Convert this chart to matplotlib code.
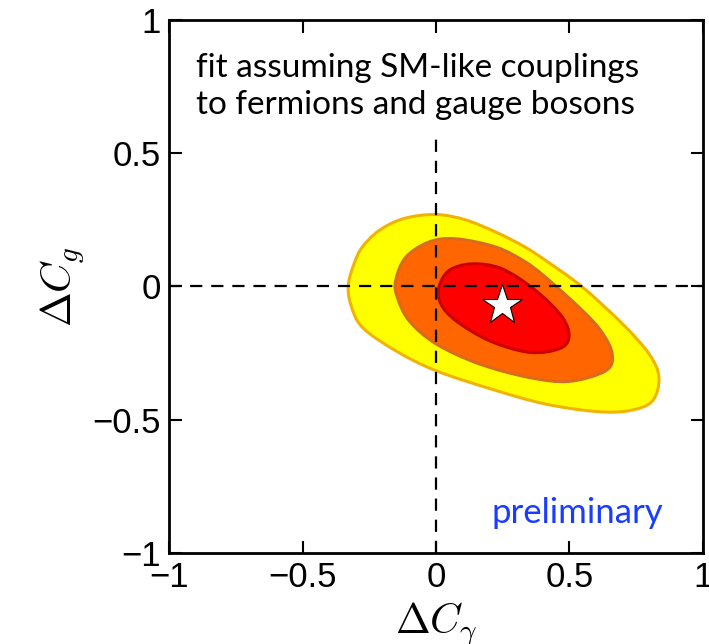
import matplotlib
matplotlib.use('Agg')
import matplotlib.pyplot as plt
from matplotlib.path import Path
from matplotlib.patches import PathPatch
import numpy as np

# Batas kontur, urut melingkar
kuning_x = [-0.328, -0.305, -0.276, -0.213, -0.12, 0.0, 0.11, 0.224, 0.33, 0.41, 0.548,
            0.698, 0.798, 0.835, 0.81, 0.723, 0.598, 0.41, 0.224, 0.0, -0.151, -0.276, -0.32]
kuning_y = [0.01, 0.09, 0.148, 0.21, 0.255, 0.27, 0.25, 0.204, 0.15, 0.098, -0.002,
            -0.14, -0.253, -0.341, -0.43, -0.466, -0.469, -0.441, -0.39, -0.316, -0.241, -0.153, -0.065]

oranye_x = [-0.151, -0.113, -0.026, 0.074, 0.224, 0.33, 0.41, 0.548, 0.62, 0.66, 0.636,
            0.498, 0.348, 0.161, 0.0, -0.101, -0.145]
oranye_y = [0.023, 0.11, 0.167, 0.179, 0.148, 0.095, 0.035, -0.09, -0.17, -0.253, -0.316,
            -0.356, -0.341, -0.29, -0.215, -0.128, -0.04]

merah_x = [0.011, 0.049, 0.136, 0.248, 0.373, 0.473, 0.498, 0.461, 0.348, 0.199, 0.074, 0.018]
merah_y = [-0.003, 0.06, 0.085, 0.066, -0.015, -0.115, -0.19, -0.234, -0.247, -0.203, -0.128, -0.065]

# Titik best fit
bintang_x = [0.248]
bintang_y = [-0.071]

tick_pos = [-1, -0.5, 0, 0.5, 1]
tick_lbl = ['\u22121', '\u22120.5', '0', '0.5', '1']


# Kurva tertutup halus lewat semua titik (Catmull-Rom -> Bezier kubik)
def kurva_tertutup(xs, ys):
    p = np.column_stack([xs, ys])
    n = len(p)
    verts = [p[0]]
    codes = [Path.MOVETO]
    for i in range(n):
        p0, p1, p2, p3 = p[i - 1], p[i], p[(i + 1) % n], p[(i + 2) % n]
        verts += [p1 + (p2 - p0) / 6, p2 - (p3 - p1) / 6, p2]
        codes += [Path.CURVE4] * 3
    verts.append(p[0])
    codes.append(Path.CLOSEPOLY)
    return Path(verts, codes)


plt.rcParams['mathtext.fontset'] = 'cm'
plt.rcParams['font.family'] = ['Liberation Sans', 'DejaVu Sans']

fig = plt.figure(figsize=(7.09, 6.44), dpi=100)
ax = fig.add_axes([0.2384, 0.1413, 0.9915 - 0.2384, 0.969 - 0.1413])

for xs, ys, fc, ec, z in [(kuning_x, kuning_y, '#ffff00', '#f0b400', 1),
                          (oranye_x, oranye_y, '#ff6600', '#d96a20', 2),
                          (merah_x, merah_y, '#ff0000', '#cc0000', 3)]:
    ax.add_patch(PathPatch(kurva_tertutup(xs, ys), facecolor=fc, edgecolor=ec, lw=2.2, zorder=z))

# Garis putus-putus di sumbu nol (yang vertikal berhenti di bawah teks)
ax.axhline(0, color='black', lw=1.6, ls=(0, (5.5, 4)), zorder=4)
ax.axvline(0, ymin=0, ymax=(0.57 + 1) / 2, color='black', lw=1.6, ls=(0, (5.5, 4)), zorder=4)

ax.plot(bintang_x, bintang_y, marker='*', ms=30, mfc='white', mec='black', mew=0.8,
        ls='none', zorder=5)

ax.set_xlim(-1, 1)
ax.set_ylim(-1, 1)
ax.set_xticks(tick_pos)
ax.set_xticklabels(tick_lbl)
ax.set_yticks(tick_pos)
ax.set_yticklabels(tick_lbl)
ax.tick_params(direction='in', length=9, width=1.5, labelsize=25, top=True, right=True, pad=6)
for s in ax.spines.values():
    s.set_linewidth(2)

ax.set_xlabel(r'$\Delta C_\gamma$', fontsize=30, labelpad=4)
ax.set_ylabel(r'$\Delta C_g$', fontsize=30, labelpad=4)

ax.text(-0.9, 0.875, 'fit assuming SM-like couplings\nto fermions and gauge bosons',
        fontsize=24, family=['Lato', 'DejaVu Sans'], va='top', ha='left', linespacing=1.3)
ax.text(0.85, -0.886, 'preliminary', fontsize=25, family=['Lato', 'DejaVu Sans'],
        color='#1a3cff', ha='right', va='baseline')

fig.savefig('out.png', dpi=100)
